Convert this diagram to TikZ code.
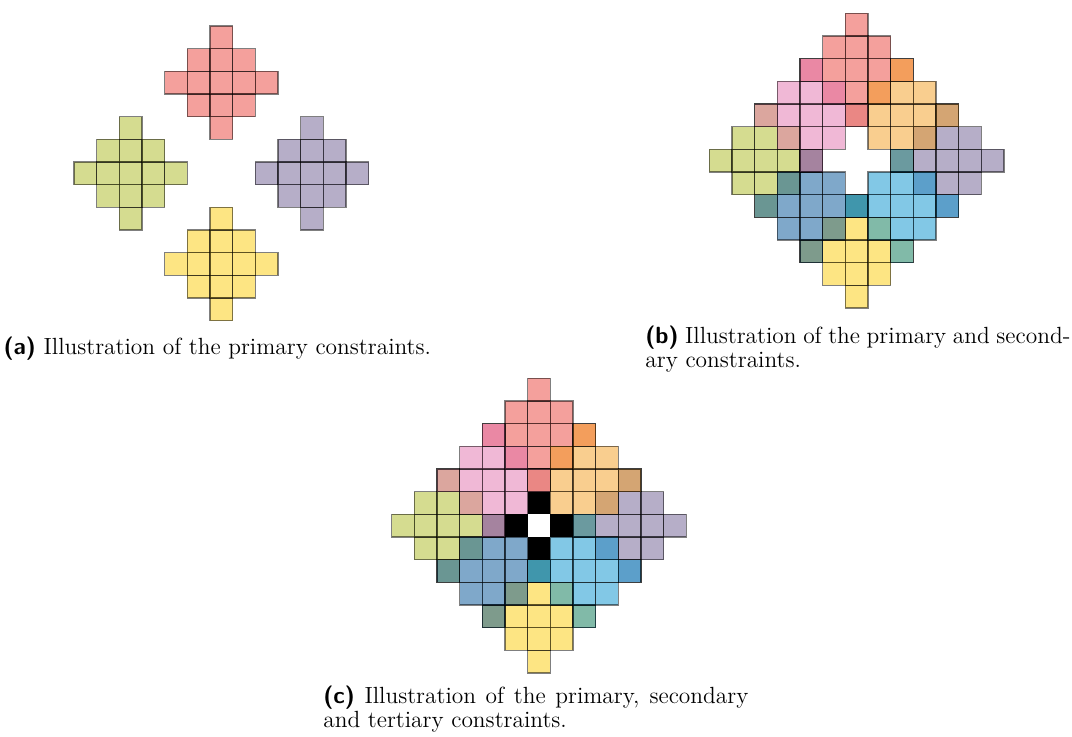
\documentclass[tikz,border=0pt]{standalone}
\definecolor{cRed}{RGB}{233,65,57}
\definecolor{cGreen}{RGB}{171,185,33}
\definecolor{cPurple}{RGB}{109,93,145}
\definecolor{cYellow}{RGB}{252,204,8}
\definecolor{cPink}{RGB}{225,113,173}
\definecolor{cOrange}{RGB}{243,157,31}
\definecolor{cBlue}{RGB}{0,82,150}
\definecolor{cSky}{RGB}{5,145,205}
\tikzset{
  cellbox/.style={draw=black, draw opacity=0.5, fill opacity=0.5, line width=0.6pt},
  capnode/.style={anchor=base west, inner sep=0pt, font=\fontsize{11.7}{12.2}\selectfont},
}
\newcommand\cdiam[5]{%
  \foreach \a in {-2,...,2}{%
    \foreach \b in {-2,...,2}{%
      \pgfmathtruncatemacro\dd{abs(\a)+abs(\b)}%
      \ifnum\dd<3
        \draw[cellbox,fill=#5] ({#1+(#3+\a-0.5)*22.67},{#2-(#4+\b+0.5)*22.67}) rectangle ++(22.67,22.67);
      \fi
    }}}
\newcommand\primcons[2]{%
  \cdiam{#1}{#2}{0}{4}{cRed}\cdiam{#1}{#2}{-4}{0}{cGreen}%
  \cdiam{#1}{#2}{4}{0}{cPurple}\cdiam{#1}{#2}{0}{-4}{cYellow}}
\newcommand\seccons[2]{%
  \cdiam{#1}{#2}{2}{2}{cOrange}\cdiam{#1}{#2}{-2}{-2}{cBlue}%
  \cdiam{#1}{#2}{2}{-2}{cSky}\cdiam{#1}{#2}{-2}{2}{cPink}}
\newcommand\tertcell[4]{%
  \fill[black] ({#1+(#3-0.5)*22.67},{#2-(#4+0.5)*22.67}) rectangle ++(22.67,22.67);}
\newcommand\capline[1]{\hbox to 212.5pt{#1}}
\begin{document}
\begin{tikzpicture}[x=0.5pt,y=-0.5pt]
\useasboundingbox (0,0) rectangle (1072,736);
% (a)
\primcons{221.4}{173.4}
% (b)
\primcons{856.7}{160.7}
\seccons{856.7}{160.7}
% (c)
\primcons{539}{525.7}
\seccons{539}{525.7}
\tertcell{539}{525.7}{0}{1}
\tertcell{539}{525.7}{1}{0}
\tertcell{539}{525.7}{-1}{0}
\tertcell{539}{525.7}{0}{-1}
% captions
\node[capnode] (capa) at (3.3,354) {{\sffamily\bfseries (a)} Illustration of the primary constraints.};
\node[capnode] (capb) at (645,343.3) {\vtop{\capline{{\sffamily\bfseries (b)} Illustration of the primary and second-}\hbox{ary constraints.}}};
\node[capnode] (capc) at (323,703.3) {\vtop{\capline{{\sffamily\bfseries (c)} Illustration of the primary, secondary}\hbox{and tertiary constraints.}}};
\end{tikzpicture}
\end{document}
